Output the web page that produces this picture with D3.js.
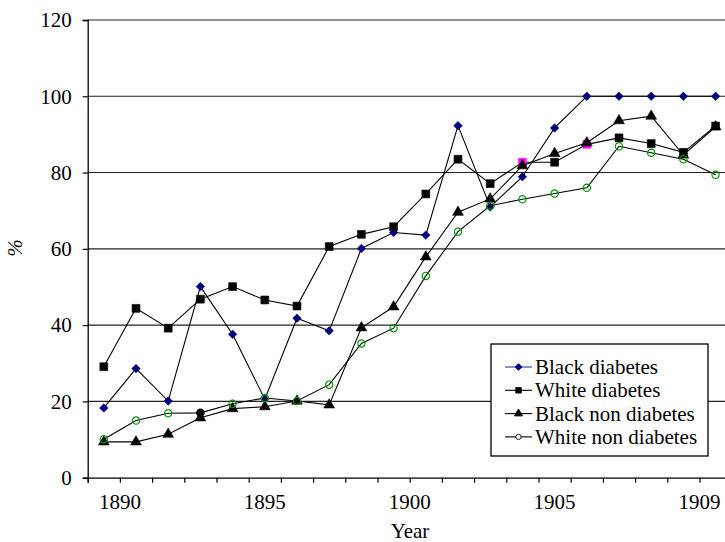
<!DOCTYPE html>
<html>
<head>
<meta charset="utf-8">
<script src="https://cdn.jsdelivr.net/npm/d3@7"></script>
<style>
html,body{margin:0;padding:0;background:#fff;overflow:hidden;}
svg{display:block;}
svg text{font-family:"Liberation Serif","Times New Roman",serif !important;}
</style>
</head>
<body>
<svg id="chart" width="725" height="542"></svg>
<script>
// ---- data ----
const categoryCount = 20;
const xTickLabels = ["1890", "1895", "1900", "1905", "1909"];
const xTickLabelPositions = [0.5, 5, 9.5, 14, 18.5]; // in category-index units
const yTicks = [0, 20, 40, 60, 80, 100, 120];

const blackDiabetes = [18.3, 28.6, 20.1, 50.1, 37.6, 20.6, 41.8, 38.5, 60.1, 64.3,
                       63.6, 92.3, 71.0, 78.9, 91.7, 100, 100, 100, 100, 100];
const whiteDiabetes = [29.1, 44.4, 39.2, 46.8, 50.1, 46.6, 45.0, 60.6, 63.8, 65.8,
                       74.4, 83.5, 77.1, 82.7, 82.7, 87.4, 89.1, 87.6, 85.3, 92.2];
const blackNonDiabetes = [9.4, 9.4, 11.4, 15.7, 18.1, 18.6, 20.1, 19.1, 39.3, 44.8,
                          57.9, 69.6, 73.1, 81.8, 85.0, 87.8, 93.6, 94.8, 84.6, 92.0];
const whiteNonDiabetes = [10.1, 15.0, 16.9, 17.0, 19.4, 20.9, 20.1, 24.4, 35.2, 39.2,
                          52.9, 64.5, 71.3, 73.0, 74.5, 76.0, 86.9, 85.2, 83.5, 79.4];
const seriesNames = ["Black diabetes", "White diabetes", "Black non diabetes", "White non diabetes"];

// points given special marker colours in the original
const whiteDiabetesHighlighted = [13, 15];
const whiteNonDiabetesFilled = [3, 6];

// ---- layout ----
const svg = d3.select("#chart");
const plotL = 87.7, plotR = 731.7, plotT = 20, plotB = 477.7;
const FONT = "'Liberation Serif', 'Times New Roman', serif";

const x = d3.scaleLinear().domain([-0.5, categoryCount - 0.5]).range([plotL, plotR]);
const y = d3.scaleLinear().domain([0, 120]).range([plotB, plotT]);

// gridlines
svg.append("g").selectAll("line").data(yTicks.filter(d => d > 0)).join("line")
  .attr("x1", plotL).attr("x2", plotR)
  .attr("y1", d => y(d)).attr("y2", d => y(d))
  .attr("stroke", "#222").attr("stroke-width", 1.1);

// y axis
const yAxis = d3.axisLeft(y).tickValues(yTicks).tickSize(5).tickPadding(11);
const gy = svg.append("g").attr("transform", `translate(${plotL},0)`).call(yAxis)
  .attr("font-family", null).attr("font-size", null);
gy.select(".domain").attr("stroke", "#000").attr("stroke-width", 1.3);
gy.selectAll(".tick line").attr("stroke", "#000").attr("stroke-width", 1.2);
gy.selectAll(".tick text").style("font-size", "21px").attr("fill", "#000")
  .style("font-family", FONT);

// x axis: tick marks on category boundaries, labels at given positions
const boundaries = d3.range(-0.5, categoryCount, 1);
const xAxis = d3.axisBottom(x).tickValues(boundaries).tickSize(5).tickFormat("");
const gx = svg.append("g").attr("transform", `translate(0,${plotB})`).call(xAxis);
gx.select(".domain").attr("stroke", "#000").attr("stroke-width", 1.3);
gx.selectAll(".tick line").attr("stroke", "#000").attr("stroke-width", 1.2);

svg.append("g").selectAll("text").data(xTickLabels).join("text")
  .attr("x", (d, i) => x(xTickLabelPositions[i]))
  .attr("y", 509)
  .attr("text-anchor", "middle")
  .style("font-size", "21px").style("font-family", FONT)
  .text(d => d);

// axis titles
svg.append("text").attr("x", 410).attr("y", 538).attr("text-anchor", "middle")
  .style("font-size", "21px").style("font-family", FONT).text("Year");
svg.append("text").attr("transform", "translate(22,248) rotate(-90)")
  .attr("text-anchor", "middle").style("font-size", "21px").style("font-family", FONT)
  .attr("font-style", "italic").text("%");

// ---- series ----
const line = d3.line().x((d, i) => x(i)).y(d => y(d));
const sym = {
  diamond: d3.symbol().type(d3.symbolSquare).size(36),
  square: d3.symbol().type(d3.symbolSquare).size(62),
  triangle: d3.symbol().type(d3.symbolTriangle).size(50),
  circle: d3.symbol().type(d3.symbolCircle).size(42)
};

function drawSeries(data, symbolGen, fillFn, strokeFn, sw, rot) {
  svg.append("path").datum(data).attr("d", line)
    .attr("fill", "none").attr("stroke", "#000").attr("stroke-width", 1.1);
  svg.append("g").selectAll("path").data(data).join("path")
    .attr("transform", (d, i) => `translate(${x(i)},${y(d)}) rotate(${rot || 0})`)
    .attr("d", symbolGen)
    .attr("fill", fillFn).attr("stroke", strokeFn).attr("stroke-width", sw);
}

drawSeries(blackDiabetes, sym.diamond, () => "#000080", () => "#000080", 0.6, 45);
drawSeries(whiteDiabetes, sym.square,
  (d, i) => whiteDiabetesHighlighted.includes(i) ? "#ff00ff" : "#000",
  (d, i) => whiteDiabetesHighlighted.includes(i) ? "#ff00ff" : "#000", 0.6);
drawSeries(blackNonDiabetes, sym.triangle, () => "#000", () => "#000", 0.6);
drawSeries(whiteNonDiabetes, sym.circle,
  (d, i) => whiteNonDiabetesFilled.includes(i) ? "#000" : "none",
  (d, i) => i === 3 ? "#000" : "#009900", 1.2);

// ---- legend ----
const lg = svg.append("g");
lg.append("rect").attr("x", 491).attr("y", 344).attr("width", 217).attr("height", 112)
  .attr("fill", "#fff").attr("stroke", "#000").attr("stroke-width", 1.3);
const legendSyms = [
  { gen: d3.symbol().type(d3.symbolSquare).size(22), rot: 45, fill: "#000080", stroke: "#000080", line: "#3333aa" },
  { gen: d3.symbol().type(d3.symbolSquare).size(30), rot: 0, fill: "#000", stroke: "#000", line: "#000" },
  { gen: d3.symbol().type(d3.symbolTriangle).size(28), rot: 0, fill: "#000", stroke: "#000", line: "#000" },
  { gen: d3.symbol().type(d3.symbolCircle).size(22), rot: 0, fill: "#fff", stroke: "#000", line: "#000" }
];
const legendRows = lg.selectAll("g.row").data(seriesNames).join("g")
  .attr("class", "row")
  .attr("transform", (d, i) => `translate(0,${367 + i * 23.3})`);
legendRows.append("line").attr("x1", 505).attr("x2", 532).attr("y1", 0).attr("y2", 0)
  .attr("stroke", (d, i) => legendSyms[i].line).attr("stroke-width", 1.1);
legendRows.append("path").attr("transform", (d, i) => `translate(518.5,0) rotate(${legendSyms[i].rot})`)
  .attr("d", (d, i) => legendSyms[i].gen())
  .attr("fill", (d, i) => legendSyms[i].fill)
  .attr("stroke", (d, i) => legendSyms[i].stroke).attr("stroke-width", 0.9);
legendRows.append("text").attr("x", 535).attr("y", 7)
  .style("font-size", "21px").style("font-family", FONT).text(d => d);
</script>
</body>
</html>
